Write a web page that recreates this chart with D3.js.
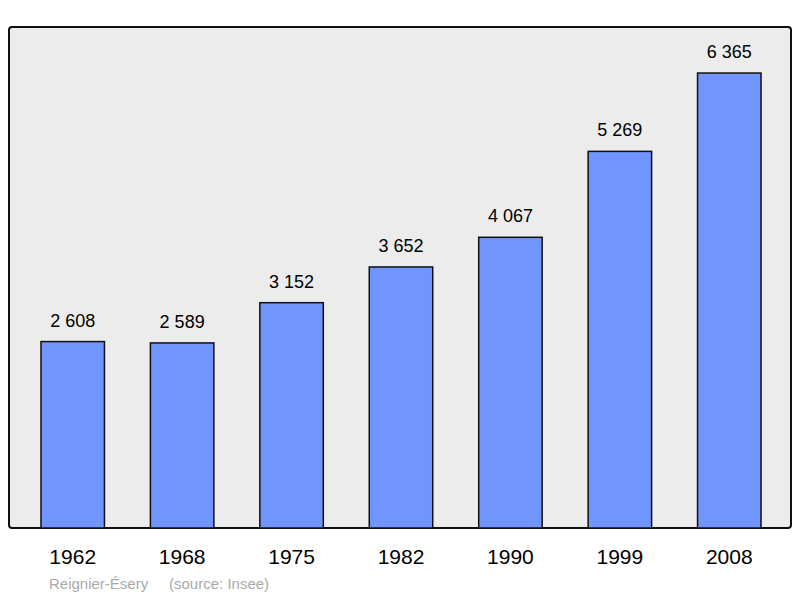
<!DOCTYPE html>
<html><head><meta charset="utf-8">
<script src="https://cdn.jsdelivr.net/npm/d3@7"></script>
<style>body{margin:0;background:#fff}</style></head>
<body><svg id="c" width="800" height="598"></svg>
<script>
const years = ["1962","1968","1975","1982","1990","1999","2008"];
const population = [2608,2589,3152,3652,4067,5269,6365];
const labels = ["2 608","2 589","3 152","3 652","4 067","5 269","6 365"];
const caption = "Reignier-Ésery     (source: Insee)";

const svg = d3.select("#c");
const font = "Liberation Sans, Arial, sans-serif";
svg.append("rect").attr("x",9).attr("y",27).attr("width",782).attr("height",501)
  .attr("rx",3).attr("fill","#ececec").attr("stroke","#111").attr("stroke-width",2);
const x = d3.scaleBand().domain(years).range([18,784]).paddingInner(0.42).paddingOuter(0.21);
const y = d3.scaleLinear().domain([0,7009]).range([528,27]);
svg.selectAll("rect.bar").data(years).join("rect").attr("class","bar")
  .attr("x",d=>x(d)).attr("width",x.bandwidth())
  .attr("y",(d,i)=>y(population[i])).attr("height",(d,i)=>528-y(population[i]))
  .attr("fill","#7095ff").attr("stroke","#111").attr("stroke-width",1.5);
svg.selectAll("text.v").data(years).join("text").attr("class","v")
  .attr("x",d=>x(d)+x.bandwidth()/2).attr("y",(d,i)=>y(population[i])-15)
  .attr("text-anchor","middle").attr("font-family",font).attr("font-size",18)
  .text((d,i)=>labels[i]);
svg.selectAll("text.yr").data(years).join("text").attr("class","yr")
  .attr("x",d=>x(d)+x.bandwidth()/2).attr("y",564)
  .attr("text-anchor","middle").attr("font-family",font).attr("font-size",21)
  .text(d=>d);
svg.append("text").attr("x",49).attr("y",589).attr("font-family",font)
  .attr("font-size",15).attr("fill","#aaa").attr("xml:space","preserve").style("white-space","pre").text(caption);
</script></body></html>
